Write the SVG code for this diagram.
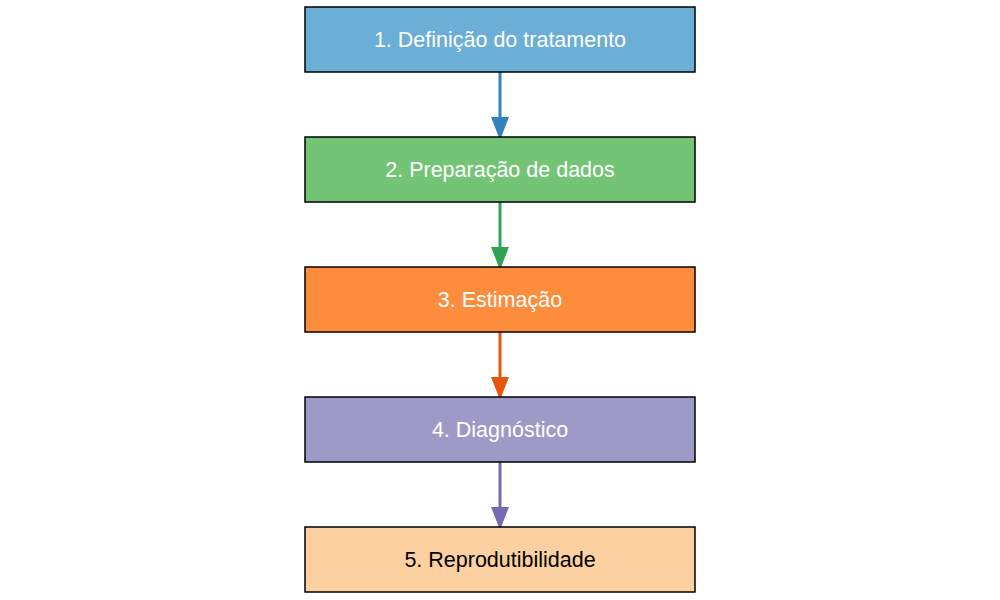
<svg xmlns="http://www.w3.org/2000/svg" width="1000" height="600" viewBox="0 0 1000 600">
<style>
.box{stroke:#000;stroke-width:1.5}
.lbl{font-family:"Liberation Sans",Arial,sans-serif;font-size:21.5px;text-anchor:middle}
.w{fill:#fff}
.k{fill:#000}
.edge{stroke-width:3;fill:none}
</style>
<rect width="1000" height="600" fill="#fff"/>
<g id="connectors">
<line class="edge" x1="500" y1="72" x2="500" y2="120" stroke="#3182bd"/>
<polygon points="491,117 509,117 500,140" fill="#3182bd"/>
<line class="edge" x1="500" y1="202" x2="500" y2="250" stroke="#31a354"/>
<polygon points="491,247 509,247 500,270" fill="#31a354"/>
<line class="edge" x1="500" y1="332" x2="500" y2="380" stroke="#e6550d"/>
<polygon points="491,377 509,377 500,400" fill="#e6550d"/>
<line class="edge" x1="500" y1="462" x2="500" y2="510" stroke="#756bb1"/>
<polygon points="491,507 509,507 500,530" fill="#756bb1"/>
</g>
<g id="n1"><rect class="box" x="305" y="7" width="390" height="65" fill="#6baed6"/><text class="lbl w" x="500" y="46.5">1. Definição do tratamento</text></g>
<g id="n2"><rect class="box" x="305" y="137" width="390" height="65" fill="#74c476"/><text class="lbl w" x="500" y="176.5">2. Preparação de dados</text></g>
<g id="n3"><rect class="box" x="305" y="267" width="390" height="65" fill="#fd8d3c"/><text class="lbl w" x="500" y="306.5">3. Estimação</text></g>
<g id="n4"><rect class="box" x="305" y="397" width="390" height="65" fill="#9e9ac8"/><text class="lbl w" x="500" y="436.5">4. Diagnóstico</text></g>
<g id="n5"><rect class="box" x="305" y="527" width="390" height="65" fill="#fdd0a2"/><text class="lbl k" x="500" y="566.5">5. Reprodutibilidade</text></g>
</svg>
